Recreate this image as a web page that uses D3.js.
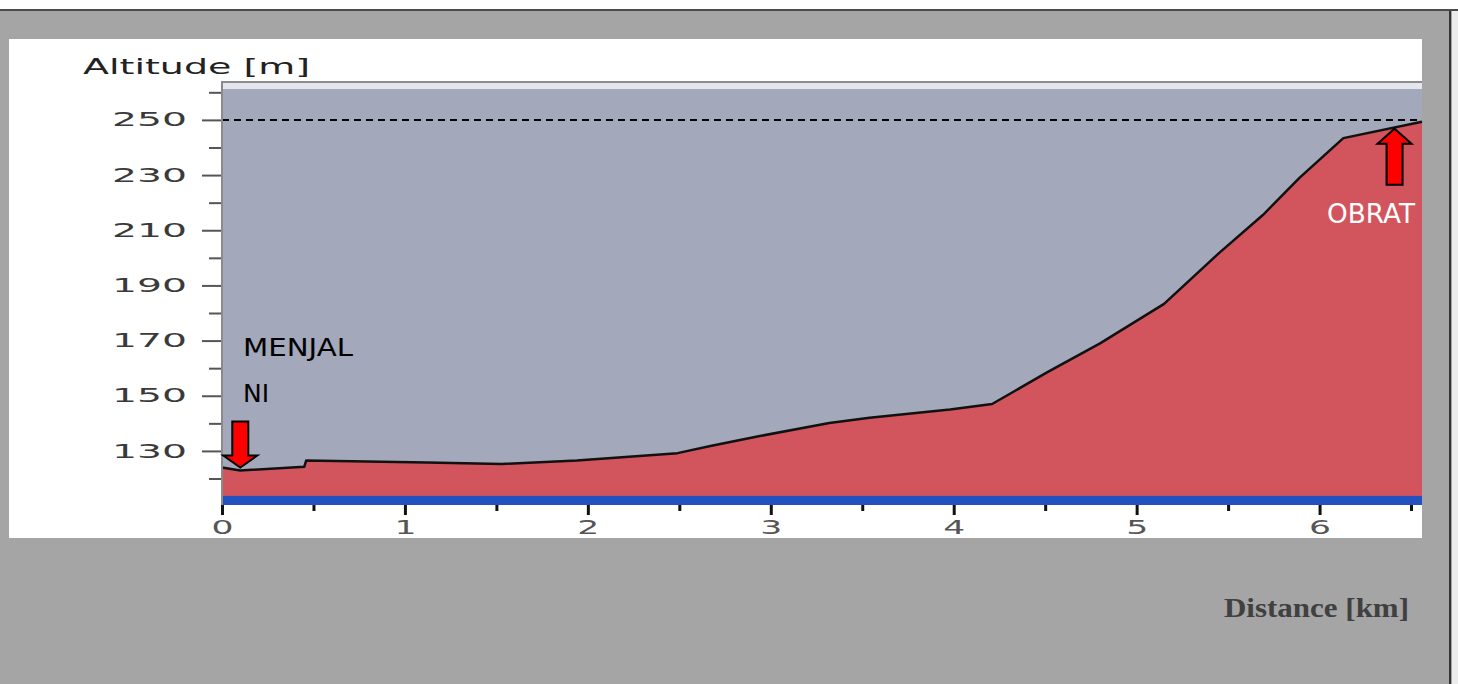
<!DOCTYPE html>
<html>
<head>
<meta charset="utf-8">
<script src="https://cdn.jsdelivr.net/npm/d3@7"></script>
<style>
  html, body { margin: 0; padding: 0; background: #a5a5a5; }
  svg { display: block; }
</style>
</head>
<body>
<svg id="chart" width="1458" height="684"></svg>
<script>
// elevation profile
const distKm = [0, 0.10, 0.45, 0.46, 1.12, 1.53, 1.94, 2.49, 2.67, 2.94, 3.32, 3.54, 3.98, 4.21, 4.51, 4.80, 5.15, 5.45, 5.69, 5.89, 6.13, 6.56];
const altM = [124.0, 122.9, 124.3, 126.5, 125.8, 125.3, 126.5, 129.2, 131.8, 135.4, 140.1, 142.0, 145.0, 147.0, 158.5, 169.0, 183.3, 201.7, 215.5, 229.0, 243.4, 249.3];
const yTicks = [130, 150, 170, 190, 210, 230, 250];
const yMinorTicks = [120, 140, 160, 180, 200, 220, 240, 260];
const xTicks = [0, 1, 2, 3, 4, 5, 6];
const xMinorTicks = [0.5, 1.5, 2.5, 3.5, 4.5, 5.5, 6.5];
const refAlt = 250;      // dashed line
const baseAlt = 113.7;   // blue band top
const markerNames = ["MENJAL", "NI", "OBRAT"];
const markerKm = [0.10, 6.41];

var svg = d3.select("#chart");

// page frame
svg.append("rect").attr("x", 0).attr("y", 0).attr("width", 1458).attr("height", 684).attr("fill", "#a5a5a5");
svg.append("rect").attr("x", 0).attr("y", 0).attr("width", 1458).attr("height", 9).attr("fill", "#ffffff");
svg.append("rect").attr("x", 0).attr("y", 9).attr("width", 1458).attr("height", 2).attr("fill", "#4a4a4a");
svg.append("rect").attr("x", 1452).attr("y", 11).attr("width", 6).attr("height", 673).attr("fill", "#ececec");
svg.append("rect").attr("x", 1449).attr("y", 11).attr("width", 2).attr("height", 673).attr("fill", "#333");

// white chart panel
svg.append("rect").attr("x", 9).attr("y", 39).attr("width", 1413).attr("height", 499).attr("fill", "#ffffff");

var plotL = 222, plotR = 1422, plotT = 89, plotB = 505;

var x = d3.scaleLinear().domain([0, 6.56]).range([plotL, plotR]);
var y = d3.scaleLinear().domain([110.4, 261.2]).range([plotB, plotT]);

// plot background
svg.append("rect").attr("x", plotL).attr("y", 81).attr("width", plotR - plotL).attr("height", 2).attr("fill", "#8c8c8c");
svg.append("rect").attr("x", plotL).attr("y", 83).attr("width", plotR - plotL).attr("height", plotT - 83).attr("fill", "#e3e6ed");
svg.append("rect").attr("x", plotL).attr("y", plotT).attr("width", plotR - plotL).attr("height", plotB - plotT).attr("fill", "#a3a8bb");

var pts = distKm.map((d, i) => [d, altM[i]]);

var area = d3.area()
  .x((d) => x(d[0]))
  .y0(y(110.4))
  .y1((d) => y(d[1]));
svg.append("path").datum(pts).attr("d", area).attr("fill", "#d2555e");

svg.append("path").datum(pts)
  .attr("d", d3.line().x((d) => x(d[0])).y((d) => y(d[1])))
  .attr("fill", "none").attr("stroke", "#111").attr("stroke-width", 2.5).attr("stroke-linejoin", "round");

// blue base band
svg.append("rect").attr("x", plotL).attr("y", y(baseAlt))
  .attr("width", plotR - plotL).attr("height", y(110.4) - y(baseAlt)).attr("fill", "#2352c0");

// reference line at 250 m
svg.append("line").attr("x1", plotL).attr("x2", plotR).attr("y1", y(refAlt)).attr("y2", y(refAlt))
  .attr("stroke", "#000").attr("stroke-width", 2).attr("stroke-dasharray", "7,5");

// y axis
var gy = svg.append("g").attr("transform", "translate(" + plotL + ",0)");
gy.call(d3.axisLeft(y).tickValues(yMinorTicks).tickSize(13).tickFormat(""));
gy.append("g").call(d3.axisLeft(y).tickValues(yTicks).tickSize(20).tickPadding(15).tickFormat(d3.format("d")));
gy.selectAll(".domain").remove();
gy.selectAll(".tick line").attr("stroke", "#555").attr("stroke-width", 2);
gy.selectAll(".tick text")
  .attr("font-family", "DejaVu Sans").attr("font-size", 19).attr("fill", "#3a3a3a")
  .attr("textLength", 75).attr("lengthAdjust", "spacingAndGlyphs");
svg.append("line").attr("x1", plotL).attr("x2", plotL).attr("y1", 81).attr("y2", plotB + 1)
  .attr("stroke", "#8a8a8a").attr("stroke-width", 2);

// x axis
var gx = svg.append("g").attr("transform", "translate(0," + plotB + ")");
gx.call(d3.axisBottom(x).tickValues(xMinorTicks).tickSize(6).tickFormat(""));
gx.append("g").call(d3.axisBottom(x).tickValues(xTicks).tickSize(10).tickPadding(5).tickFormat(d3.format("d")));
gx.selectAll(".domain").remove();
gx.selectAll(".tick line").attr("stroke", "#111").attr("stroke-width", 3);
gx.selectAll(".tick text")
  .attr("font-family", "DejaVu Sans").attr("font-size", 20).attr("fill", "#555")
  .attr("textLength", 22).attr("lengthAdjust", "spacingAndGlyphs");

// axis titles
svg.append("text").attr("x", 83).attr("y", 74)
  .attr("font-family", "DejaVu Sans").attr("font-size", 21).attr("fill", "#222")
  .attr("textLength", 227).attr("lengthAdjust", "spacingAndGlyphs")
  .text("Altitude [m]");

svg.append("text").attr("x", 1224).attr("y", 617)
  .attr("font-family", "Liberation Serif").attr("font-weight", "bold").attr("font-size", 27).attr("fill", "#404040")
  .attr("textLength", 185).attr("lengthAdjust", "spacingAndGlyphs")
  .text("Distance [km]");

// markers
function arrow(tipX, tipY, dir, headH, shaftLen) {
  // dir = 1 pointing down, -1 pointing up
  var hw = 17, sw = 8;
  var p = d3.path();
  p.moveTo(tipX, tipY);
  p.lineTo(tipX + hw, tipY - dir * headH);
  p.lineTo(tipX + sw, tipY - dir * headH);
  p.lineTo(tipX + sw, tipY - dir * (headH + shaftLen));
  p.lineTo(tipX - sw, tipY - dir * (headH + shaftLen));
  p.lineTo(tipX - sw, tipY - dir * headH);
  p.lineTo(tipX - hw, tipY - dir * headH);
  p.closePath();
  svg.append("path").attr("d", p.toString())
    .attr("fill", "#ff0000").attr("stroke", "#000").attr("stroke-width", 2).attr("stroke-linejoin", "miter");
}
var startAlt = altM[1], endAlt = 249.0;
arrow(x(markerKm[0]), y(startAlt) - 3, 1, 12, 34);
arrow(x(markerKm[1]), y(endAlt) + 6, -1, 15, 41);

svg.append("text").attr("x", 243).attr("y", 356)
  .attr("font-family", "DejaVu Sans").attr("font-size", 25).attr("fill", "#000")
  .attr("textLength", 110).attr("lengthAdjust", "spacingAndGlyphs")
  .text(markerNames[0]);
svg.append("text").attr("x", 243).attr("y", 402)
  .attr("font-family", "DejaVu Sans").attr("font-size", 25).attr("fill", "#000")
  .text(markerNames[1]);
svg.append("text").attr("x", 1327).attr("y", 223)
  .attr("font-family", "DejaVu Sans").attr("font-size", 26).attr("fill", "#fff")
  .attr("textLength", 88).attr("lengthAdjust", "spacingAndGlyphs")
  .text(markerNames[2]);
</script>
</body>
</html>
